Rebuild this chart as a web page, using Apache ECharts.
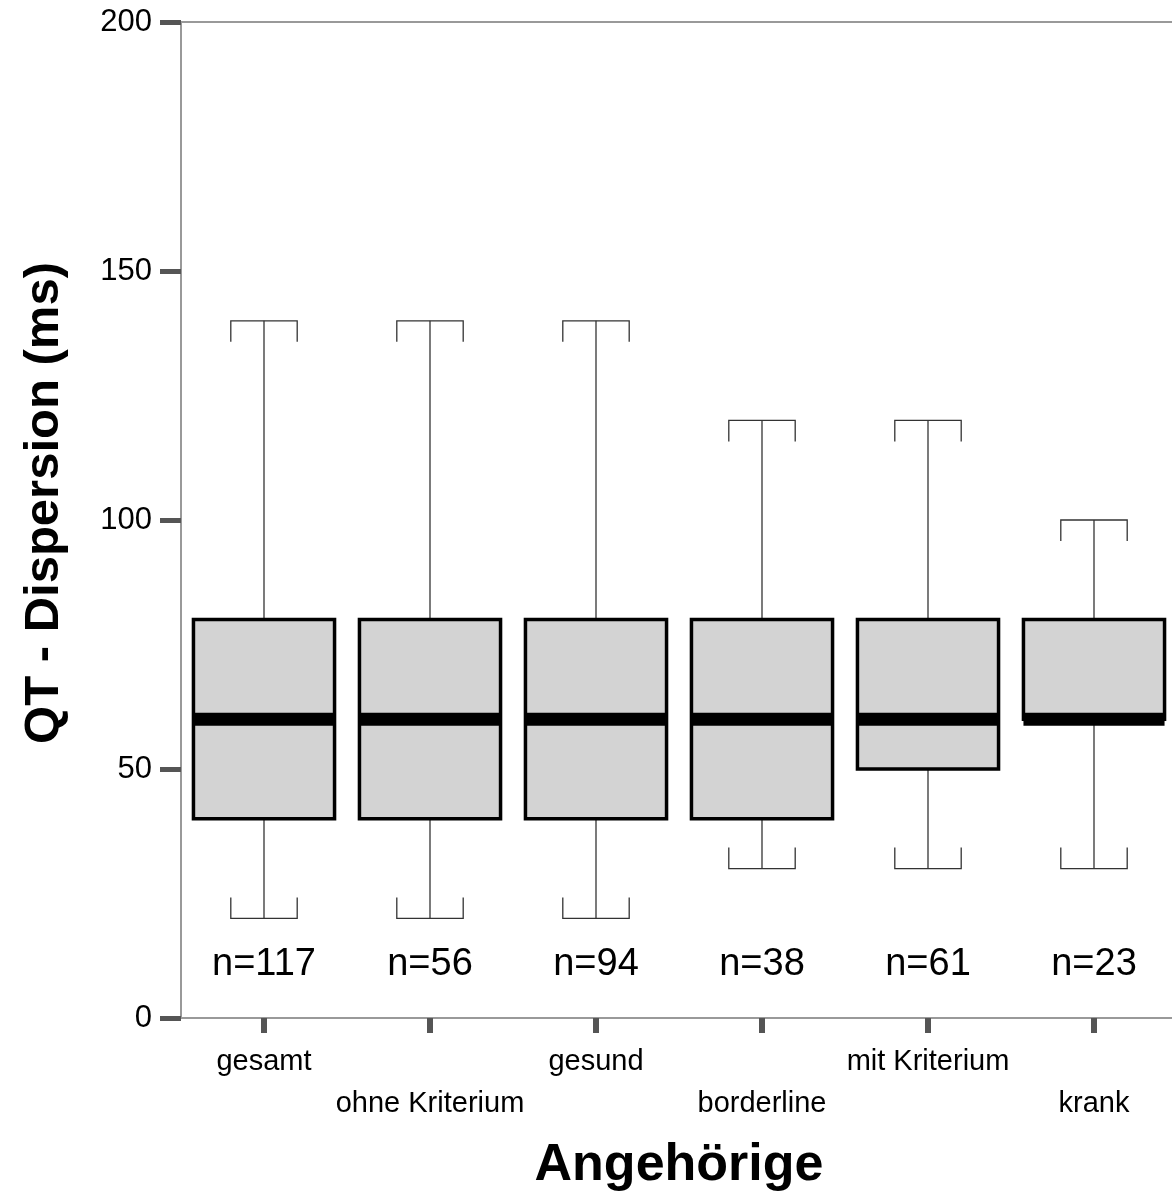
<!DOCTYPE html>
<html>
<head>
<meta charset="utf-8">
<script src="https://cdn.jsdelivr.net/npm/echarts@6/dist/echarts.min.js"></script>
<style>
html,body{margin:0;padding:0;background:#fff;overflow:hidden;}
#chart{width:1177px;height:1199px;}
</style>
</head>
<body>
<div id="chart"></div>
<script>
const categories = ['gesamt', 'ohne Kriterium', 'gesund', 'borderline', 'mit Kriterium', 'krank'];
const whiskerLow = [20, 20, 20, 30, 30, 30];
const q1 = [40, 40, 40, 40, 50, 60];
const median = [60, 60, 60, 60, 60, 60];
const q3 = [80, 80, 80, 80, 80, 80];
const whiskerHigh = [140, 140, 140, 120, 120, 100];
const nCounts = [117, 56, 94, 38, 61, 23];
const yTicks = [0, 50, 100, 150, 200];

const FONT = '"Liberation Sans", Arial, Helvetica, sans-serif';
const boxData = categories.map((c, i) => [i, whiskerLow[i], q1[i], median[i], q3[i], whiskerHigh[i], nCounts[i]]);

function renderBox(params, api) {
  const i = api.value(0);
  const band = api.size([1, 0])[0];
  const boxW = band * 0.85;
  const capW = band * 0.40;
  const capTick = 21;
  const cx = api.coord([i, 0])[0];
  const yLo = api.coord([i, api.value(1)])[1];
  const yQ1 = api.coord([i, api.value(2)])[1];
  const yMed = api.coord([i, api.value(3)])[1];
  const yQ3 = api.coord([i, api.value(4)])[1];
  const yHi = api.coord([i, api.value(5)])[1];
  const yN = api.coord([i, 10.8])[1];
  const wStyle = {stroke: '#333', lineWidth: 1.3, fill: null};
  return {
    type: 'group',
    children: [
      {type: 'line', shape: {x1: cx, y1: yHi, x2: cx, y2: yQ3}, style: wStyle},
      {type: 'line', shape: {x1: cx, y1: yQ1, x2: cx, y2: yLo}, style: wStyle},
      {type: 'polyline', shape: {points: [[cx - capW/2, yHi + capTick], [cx - capW/2, yHi], [cx + capW/2, yHi], [cx + capW/2, yHi + capTick]]}, style: wStyle},
      {type: 'polyline', shape: {points: [[cx - capW/2, yLo - capTick], [cx - capW/2, yLo], [cx + capW/2, yLo], [cx + capW/2, yLo - capTick]]}, style: wStyle},
      {type: 'rect', shape: {x: cx - boxW/2, y: yQ3, width: boxW, height: yQ1 - yQ3}, style: {fill: '#d3d3d3', stroke: '#000', lineWidth: 3.5}},
      {type: 'rect', shape: {x: cx - boxW/2, y: yMed - 6.5, width: boxW, height: 13}, style: {fill: '#000'}},
      {type: 'text', x: cx, y: yN, style: {text: 'n=' + api.value(6), font: '38px ' + FONT, fill: '#000', align: 'center', verticalAlign: 'middle'}}
    ]
  };
}

const chart = echarts.init(document.getElementById('chart'), null, {renderer: 'canvas'});
chart.setOption({
  backgroundColor: '#fff',
  animation: false,
  grid: {left: 181, top: 22, right: 0, bottom: 181, containLabel: false},
  xAxis: [{
    type: 'category',
    data: categories,
    position: 'bottom',
    axisLine: {show: true, lineStyle: {color: '#999', width: 2}},
    axisTick: {show: true, alignWithLabel: true, length: 15, interval: 0, lineStyle: {color: '#555', width: 6}},
    axisLabel: {
      interval: 0, margin: 23, fontSize: 29, fontFamily: FONT, color: '#000', lineHeight: 42,
      formatter: (v, idx) => (idx % 2 === 1 ? '\n' + v : v)
    },
    name: 'Angehörige',
    nameLocation: 'middle',
    nameGap: 122,
    nameTextStyle: {fontSize: 52, fontWeight: 'bold', fontFamily: FONT, color: '#000'}
  }, {
    type: 'category',
    data: categories,
    position: 'top',
    axisLine: {show: true, lineStyle: {color: '#999', width: 2}},
    axisTick: {show: false},
    axisLabel: {show: false}
  }],
  yAxis: {
    type: 'value',
    min: 0, max: 200, interval: 50,
    axisLine: {show: true, lineStyle: {color: '#999', width: 2}},
    axisTick: {show: true, length: 21, lineStyle: {color: '#555', width: 5}},
    axisLabel: {margin: 29, fontSize: 31, fontFamily: FONT, color: '#000',
      formatter: v => (yTicks.indexOf(v) >= 0 ? String(v) : '')},
    splitLine: {show: false},
    name: 'QT - Dispersion (ms)',
    nameLocation: 'middle',
    nameGap: 112,
    nameTextStyle: {fontSize: 49, fontWeight: 'bold', fontFamily: FONT, color: '#000', padding: [0, 0, 0, 34]}
  },
  series: [{
    type: 'custom',
    xAxisIndex: 0,
    renderItem: renderBox,
    encode: {x: 0, y: [1, 2, 3, 4, 5]},
    data: boxData,
    clip: false
  }]
});
</script>
</body>
</html>
